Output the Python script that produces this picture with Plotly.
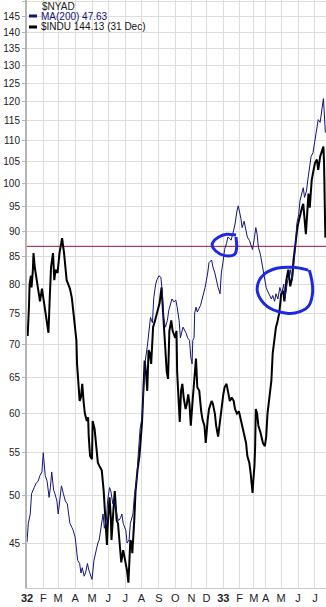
import plotly.graph_objects as go
import math

# ---------------- data ----------------
indu_dates = [
    "1932-01-02", "1932-01-04", "1932-01-06", "1932-01-07", "1932-01-09", "1932-01-11", "1932-01-13",
    "1932-01-14", "1932-01-16", "1932-01-19", "1932-01-22", "1932-01-26", "1932-01-29", "1932-02-01",
    "1932-02-04", "1932-02-08", "1932-02-10", "1932-02-13", "1932-02-16", "1932-02-19", "1932-02-20",
    "1932-02-23", "1932-02-25", "1932-02-29", "1932-03-03", "1932-03-05", "1932-03-08", "1932-03-11",
    "1932-03-14", "1932-03-16", "1932-03-19", "1932-03-22", "1932-03-26", "1932-03-29", "1932-04-01",
    "1932-04-04", "1932-04-05", "1932-04-07", "1932-04-09", "1932-04-12", "1932-04-14", "1932-04-16",
    "1932-04-19", "1932-04-22", "1932-04-25", "1932-04-26", "1932-04-28", "1932-05-02", "1932-05-03",
    "1932-05-06", "1932-05-10", "1932-05-12", "1932-05-16", "1932-05-19", "1932-05-23", "1932-05-26",
    "1932-05-28", "1932-05-31", "1932-06-03", "1932-06-06", "1932-06-07", "1932-06-10", "1932-06-13",
    "1932-06-16", "1932-06-18", "1932-06-22", "1932-06-24", "1932-06-28", "1932-07-01", "1932-07-06",
    "1932-07-08", "1932-07-11", "1932-07-12", "1932-07-14", "1932-07-15", "1932-07-19", "1932-07-21",
    "1932-07-25", "1932-07-28", "1932-08-02", "1932-08-05", "1932-08-06", "1932-08-09", "1932-08-11",
    "1932-08-13", "1932-08-16", "1932-08-18", "1932-08-22", "1932-08-25", "1932-08-27", "1932-08-30",
    "1932-09-02", "1932-09-07", "1932-09-08", "1932-09-12", "1932-09-14", "1932-09-16", "1932-09-19",
    "1932-09-21", "1932-09-24", "1932-09-27", "1932-10-01", "1932-10-04", "1932-10-05", "1932-10-08",
    "1932-10-10", "1932-10-13", "1932-10-15", "1932-10-18", "1932-10-21", "1932-10-24", "1932-10-26",
    "1932-10-28", "1932-10-31", "1932-11-03", "1932-11-05", "1932-11-07", "1932-11-10", "1932-11-14",
    "1932-11-17", "1932-11-21", "1932-11-23", "1932-11-28", "1932-11-30", "1932-12-03", "1932-12-06",
    "1932-12-10", "1932-12-13", "1932-12-16", "1932-12-19", "1932-12-22", "1932-12-27", "1932-12-29",
    "1933-01-03", "1933-01-05", "1933-01-09", "1933-01-11", "1933-01-14", "1933-01-18", "1933-01-21",
    "1933-01-24", "1933-01-27", "1933-01-31", "1933-02-03", "1933-02-06", "1933-02-09", "1933-02-14",
    "1933-02-16", "1933-02-20", "1933-02-23", "1933-02-27", "1933-02-28", "1933-03-02", "1933-03-03",
    "1933-03-15", "1933-03-17", "1933-03-20", "1933-03-23", "1933-03-25", "1933-03-28", "1933-03-31",
    "1933-04-03", "1933-04-05", "1933-04-08", "1933-04-12", "1933-04-15", "1933-04-19", "1933-04-21",
    "1933-04-24", "1933-04-27", "1933-04-29", "1933-05-01", "1933-05-04", "1933-05-06", "1933-05-10",
    "1933-05-13", "1933-05-17", "1933-05-20", "1933-05-23", "1933-05-26", "1933-05-31", "1933-06-02",
    "1933-06-05", "1933-06-08", "1933-06-10", "1933-06-13", "1933-06-15", "1933-06-17", "1933-06-20",
    "1933-06-22", "1933-06-26", "1933-06-28", "1933-07-01", "1933-07-06", "1933-07-08", "1933-07-12",
    "1933-07-15", "1933-07-18", "1933-07-19", "1933-07-20", "1933-07-21",
]
indu_values = [
    72.5, 71.3, 76.0, 80.0, 81.5, 79.4, 82.5,
    85.7, 83.0, 81.2, 79.0, 77.0, 79.2, 77.6,
    76.0, 73.4, 71.8, 77.6, 83.1, 85.7, 83.9,
    80.7, 82.6, 82.0, 85.7, 87.2, 88.6, 85.7,
    83.1, 80.7, 79.8, 79.2, 77.6, 75.4, 73.4,
    70.6, 67.0, 64.1, 61.7, 62.2, 64.1, 61.7,
    60.0, 59.0, 59.5, 57.0, 54.6, 54.2, 59.0,
    58.0, 55.8, 53.8, 53.3, 52.9, 50.5, 47.0,
    44.8, 46.6, 49.8, 47.6, 45.3, 48.5, 50.5,
    47.3, 47.0, 44.6, 43.1, 44.3, 43.3, 42.3,
    41.2, 43.6, 45.3, 45.0, 44.0, 47.3, 50.5,
    52.9, 54.6, 58.9, 64.6, 67.5, 65.8, 63.1,
    69.1, 68.6, 67.0, 72.7, 73.8, 74.7, 75.2,
    76.7, 79.4, 77.6, 72.7, 68.1, 65.8, 64.8,
    72.1, 73.8, 72.1, 71.0, 72.1, 65.8, 61.3,
    58.9, 63.1, 64.1, 62.2, 60.6, 61.3, 62.6,
    61.3, 58.4, 62.0, 64.6, 65.8, 67.8, 63.6,
    63.1, 60.3, 59.2, 58.4, 56.2, 59.2, 60.6,
    61.7, 61.3, 60.0, 58.4, 57.0, 59.2, 60.6,
    62.6, 63.6, 64.1, 63.1, 61.7, 62.2, 61.7,
    60.6, 60.0, 60.3, 59.2, 58.4, 57.6, 56.2,
    54.6, 53.8, 52.6, 50.3, 51.5, 53.5, 55.8,
    60.6, 60.0, 58.4, 57.6, 57.0, 56.2, 55.8,
    57.0, 60.0, 62.2, 64.6, 68.6, 71.0, 72.7,
    73.4, 75.0, 77.0, 78.3, 78.8, 77.0, 80.7,
    82.6, 79.6, 81.2, 84.4, 88.2, 90.7, 92.0,
    93.4, 94.8, 95.6, 92.6, 89.4, 93.4, 97.8,
    94.8, 100.8, 102.4, 104.7, 105.5, 103.1, 106.2,
    108.0, 108.6, 104.7, 96.0, 88.7,
]

nyad_dates = [
    "1932-01-02", "1932-01-05", "1932-01-08", "1932-01-11", "1932-01-15", "1932-01-19", "1932-01-22",
    "1932-01-26", "1932-01-29", "1932-02-01", "1932-02-04", "1932-02-08", "1932-02-11", "1932-02-15",
    "1932-02-17", "1932-02-20", "1932-02-24", "1932-02-27", "1932-03-01", "1932-03-04", "1932-03-07",
    "1932-03-10", "1932-03-14", "1932-03-17", "1932-03-19", "1932-03-22", "1932-03-26", "1932-03-29",
    "1932-04-01", "1932-04-04", "1932-04-06", "1932-04-09", "1932-04-12", "1932-04-14", "1932-04-18",
    "1932-04-20", "1932-04-23", "1932-04-26", "1932-04-29", "1932-05-02", "1932-05-05", "1932-05-09",
    "1932-05-12", "1932-05-14", "1932-05-18", "1932-05-21", "1932-05-24", "1932-05-27", "1932-05-31",
    "1932-06-03", "1932-06-06", "1932-06-09", "1932-06-11", "1932-06-14", "1932-06-17", "1932-06-20",
    "1932-06-23", "1932-06-25", "1932-06-28", "1932-07-02", "1932-07-06", "1932-07-09", "1932-07-12",
    "1932-07-16", "1932-07-19", "1932-07-23", "1932-07-26", "1932-07-29", "1932-08-02", "1932-08-05",
    "1932-08-08", "1932-08-11", "1932-08-15", "1932-08-17", "1932-08-20", "1932-08-23", "1932-08-26",
    "1932-08-29", "1932-09-01", "1932-09-06", "1932-09-08", "1932-09-10", "1932-09-14", "1932-09-17",
    "1932-09-20", "1932-09-23", "1932-09-26", "1932-09-29", "1932-10-03", "1932-10-05", "1932-10-08",
    "1932-10-11", "1932-10-14", "1932-10-17", "1932-10-20", "1932-10-22", "1932-10-25", "1932-10-28",
    "1932-10-31", "1932-11-02", "1932-11-03", "1932-11-05", "1932-11-07", "1932-11-10", "1932-11-14",
    "1932-11-17", "1932-11-19", "1932-11-22", "1932-11-26", "1932-11-29", "1932-12-03", "1932-12-06",
    "1932-12-10", "1932-12-13", "1932-12-16", "1932-12-19", "1932-12-22", "1932-12-27", "1932-12-29",
    "1933-01-03", "1933-01-05", "1933-01-09", "1933-01-11", "1933-01-14", "1933-01-17", "1933-01-21",
    "1933-01-24", "1933-01-27", "1933-01-30", "1933-02-03", "1933-02-06", "1933-02-09", "1933-02-14",
    "1933-02-16", "1933-02-20", "1933-02-23", "1933-02-27", "1933-03-02", "1933-03-15", "1933-03-17",
    "1933-03-20", "1933-03-23", "1933-03-25", "1933-03-28", "1933-03-31", "1933-04-03", "1933-04-05",
    "1933-04-08", "1933-04-12", "1933-04-15", "1933-04-19", "1933-04-21", "1933-04-25", "1933-04-28",
    "1933-05-02", "1933-05-05", "1933-05-08", "1933-05-12", "1933-05-15", "1933-05-17", "1933-05-20",
    "1933-05-23", "1933-05-26", "1933-05-29", "1933-06-02", "1933-06-05", "1933-06-08", "1933-06-10",
    "1933-06-13", "1933-06-16", "1933-06-19", "1933-06-22", "1933-06-24", "1933-06-28", "1933-07-01",
    "1933-07-06", "1933-07-08", "1933-07-12", "1933-07-15", "1933-07-18", "1933-07-19", "1933-07-20",
    "1933-07-21",
]
nyad_values = [
    45.1, 47.0, 48.0, 50.2, 50.9, 51.4, 51.6,
    52.3, 52.7, 55.0, 52.3, 51.6, 49.8, 50.9,
    52.7, 50.6, 50.2, 49.4, 48.0, 49.8, 51.1,
    50.2, 49.4, 49.1, 48.0, 47.0, 46.6, 46.3,
    45.6, 44.0, 43.3, 43.0, 42.1, 42.6, 41.8,
    42.1, 43.0, 42.4, 41.8, 41.5, 43.3, 44.3,
    45.0, 45.3, 46.6, 48.0, 46.5, 47.3, 49.4,
    50.9, 50.5, 49.1, 49.4, 49.1, 47.6, 47.3,
    47.6, 48.0, 47.0, 46.3, 45.0, 45.3, 47.0,
    48.0, 49.8, 52.0, 54.6, 58.0, 59.5, 65.3,
    67.5, 69.6, 72.1, 74.3, 73.4, 77.6, 80.0,
    80.8, 81.5, 81.2, 78.8, 74.3, 72.7, 73.8,
    75.4, 76.7, 77.4, 76.9, 77.2, 76.0, 73.8,
    71.0, 71.7, 72.7, 72.1, 71.7, 71.0, 70.6,
    68.0, 67.0, 70.6, 71.0, 75.0, 76.0, 75.2,
    75.8, 76.3, 77.2, 78.3, 79.4, 82.0, 83.9,
    84.4, 83.1, 82.0, 80.7, 79.4, 78.3, 82.0,
    84.4, 86.4, 87.6, 88.8, 88.5, 88.2, 90.2,
    91.4, 94.1, 95.2, 92.6, 90.7, 92.0, 90.2,
    88.8, 88.2, 87.6, 86.4, 88.8, 90.7, 89.4,
    86.8, 85.5, 83.9, 82.6, 80.7, 79.4, 78.8,
    78.0, 77.4, 78.0, 77.0, 78.3, 77.4, 79.4,
    78.3, 80.0, 77.6, 80.7, 81.2, 82.6, 80.7,
    83.1, 86.8, 91.4, 93.4, 96.3, 98.4, 99.1,
    97.0, 98.4, 100.8, 103.7, 106.2, 107.1, 110.2,
    113.4, 115.3, 114.6, 118.6, 120.8, 118.0, 114.0,
    112.0,
]

ref_level = 87.0
y_tick_values = list(range(45, 155, 5))
month_ticks = [
    "1932-01-02", "1932-02-01", "1932-03-01", "1932-04-01", "1932-05-02", "1932-06-01",
    "1932-07-01", "1932-08-01", "1932-09-01", "1932-10-01", "1932-11-01", "1932-12-01",
    "1933-01-03", "1933-02-01", "1933-03-01", "1933-04-01", "1933-05-01", "1933-06-01",
    "1933-07-01",
]
month_labels = ["<b>32</b>", "F", "M", "A", "M", "J", "J", "A", "S", "O", "N", "D",
                "<b>33</b>", "F", "M", "A", "M", "J", "J"]
market_closed = [
    "1932-01-01", "1932-02-12", "1932-02-22", "1932-03-25", "1932-05-30", "1932-07-04",
    "1932-09-05", "1932-10-12", "1932-11-08", "1932-11-11", "1932-11-24", "1932-12-26",
    "1933-01-02", "1933-02-13", "1933-02-22", "1933-03-04", "1933-03-06", "1933-03-07",
    "1933-03-08", "1933-03-09", "1933-03-10", "1933-03-11", "1933-03-13", "1933-03-14",
    "1933-04-14", "1933-05-30", "1933-07-04",
]
x_start, x_end = "1932-01-02", "1933-07-22"

legend_title = "$NYAD"
legend_ma = "MA(200) 47.63"
legend_indu = "$INDU 144.13 (31 Dec)"

# ---------------- figure ----------------
W, H = 326, 607
ML, MR, MT, MB = 27, 0, 0, 19
PW, PH = W - ML - MR, H - MT - MB

NAVY = "#141478"
RED = "#9c1436"
CIRCLE = "#1e28e0"

fig = go.Figure()
fig.add_trace(go.Scatter(x=[x_start, x_end], y=[ref_level, ref_level], mode="lines",
                         line=dict(color=RED, width=1), hoverinfo="skip"))
fig.add_trace(go.Scatter(x=indu_dates, y=indu_values, mode="lines",
                         line=dict(color="black", width=2), name=legend_indu))
fig.add_trace(go.Scatter(x=nyad_dates, y=nyad_values, mode="lines",
                         line=dict(color=NAVY, width=1), name=legend_ma))


def px2paper(px, py):
    return (px - ML) / PW, (H - MB - py) / PH


def smooth_path(points, closed=False):
    pts = [px2paper(x, y) for x, y in points]
    n = len(pts)
    d = "M %.5f,%.5f" % pts[0]
    for i in range(n - 1):
        p0 = pts[i - 1] if i > 0 else pts[i]
        p1, p2 = pts[i], pts[i + 1]
        p3 = pts[i + 2] if i + 2 < n else pts[i + 1]
        c1 = (p1[0] + (p2[0] - p0[0]) / 6, p1[1] + (p2[1] - p0[1]) / 6)
        c2 = (p2[0] - (p3[0] - p1[0]) / 6, p2[1] - (p3[1] - p1[1]) / 6)
        d += " C %.5f,%.5f %.5f,%.5f %.5f,%.5f" % (c1 + c2 + p2)
    return d


# hand-drawn circles (annotations in the reference)
circle1 = [(236, 235), (226.7, 234.3), (218.3, 237.3), (212.7, 242.7), (213.3, 248.3),
           (220, 254), (228.3, 256), (235, 254), (236.7, 246.7), (236, 237)]
circle2 = [(308.3, 270), (293.3, 267.3), (276.7, 268.3), (263.3, 275), (257.3, 286.7),
           (260, 298.3), (270, 308.3), (286.7, 313.3), (300, 311.7), (309.3, 305),
           (312.7, 291.7), (311.7, 280), (309.3, 270)]

shapes = []
for c in (circle1, circle2):
    shapes.append(dict(type="path", xref="paper", yref="paper", path=smooth_path(c),
                       line=dict(color=CIRCLE, width=3), layer="above"))

# legend swatches
for py, col in ((16, NAVY), (27, "black")):
    x0, y0 = px2paper(29, py)
    x1, _ = px2paper(37, py)
    shapes.append(dict(type="line", xref="paper", yref="paper", x0=x0, x1=x1, y0=y0, y1=y0,
                       line=dict(color=col, width=3), layer="above"))

annotations = []
for txt, py, col in ((legend_title, 6, "#222222"), (legend_ma, 16, NAVY), (legend_indu, 27, "#111111")):
    ax, ay = px2paper(39 if txt != legend_title else 40, py)
    annotations.append(dict(text=txt, x=ax, y=ay, xref="paper", yref="paper", showarrow=False,
                            xanchor="left", yanchor="middle",
                            font=dict(family="Liberation Sans, Arial", size=10, color=col)))

fig.update_layout(
    width=W, height=H,
    margin=dict(l=ML, r=MR, t=MT, b=MB, pad=0),
    paper_bgcolor="white", plot_bgcolor="white",
    showlegend=False,
    shapes=shapes, annotations=annotations,
    xaxis=dict(
        type="date", range=[x_start, x_end],
        rangebreaks=[dict(bounds=["sun", "mon"]), dict(values=market_closed)],
        tickmode="array", tickvals=month_ticks, ticktext=month_labels,
        showgrid=True, gridcolor="#dedede", gridwidth=1,
        showline=True, linecolor="#c8c8c8", linewidth=1,
        ticks="", ticklen=0,
        tickfont=dict(family="Liberation Sans, Arial", size=11, color="#222222"),
        zeroline=False, fixedrange=True,
    ),
    yaxis=dict(
        type="log", range=[math.log10(40.72), math.log10(150.4)],
        tickmode="array", tickvals=y_tick_values, ticktext=[str(v) for v in y_tick_values],
        showgrid=True, gridcolor="#dedede", gridwidth=1,
        showline=True, linecolor="#b4b4b4", linewidth=2,
        ticks="outside", ticklen=3, tickcolor="#b4b4b4",
        tickfont=dict(family="Liberation Sans, Arial", size=10, color="#222222"),
        zeroline=False, fixedrange=True,
    ),
)

fig.write_html("out.html")
